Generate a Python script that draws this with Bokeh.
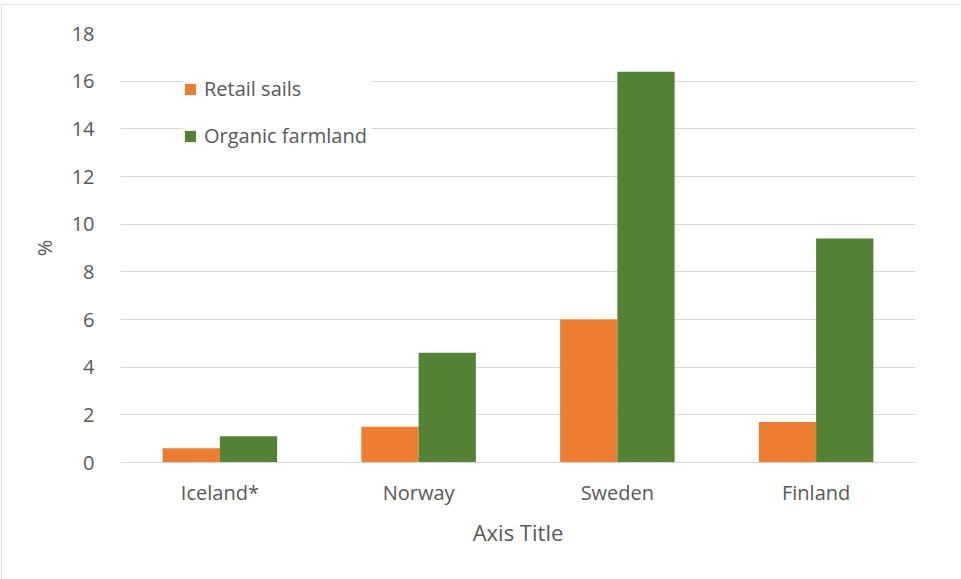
from bokeh.plotting import figure
from bokeh.models import FactorRange, Range1d, Legend, LegendItem, FixedTicker
from bokeh.transform import dodge
from bokeh.embed import file_html
from bokeh.resources import INLINE

countries = ["Iceland*", "Norway", "Sweden", "Finland"]
retail_sails = [0.6, 1.5, 6.0, 1.7]
organic_farmland = [1.1, 4.6, 16.4, 9.4]
y_ticks = [0, 2, 4, 6, 8, 10, 12, 14, 16, 18]

FONT = "Open Sans"
TXT = "#595959"
GRID = "#d9d9d9"
ORANGE = "#ED7D31"
GREEN = "#548235"

p = figure(
    x_range=FactorRange(*countries, range_padding=0, factor_padding=0),
    y_range=Range1d(0, 18),
    width=959, height=575,
    output_backend="svg", toolbar_location=None,
    min_border_left=119, min_border_right=45, min_border_top=29, min_border_bottom=117,
)
p.margin = (4, 0, 0, 1)
p.styles = {"outline": "1px solid #d9d9d9", "outline-offset": "-1px"}
p.outline_line_color = None
p.background_fill_color = "white"

src = dict(c=countries, r=retail_sails, o=organic_farmland)
bw = 0.288
r1 = p.vbar(x=dodge("c", -bw / 2, range=p.x_range), top="r", width=bw, source=src,
            fill_color=ORANGE, line_color=None)
r2 = p.vbar(x=dodge("c", bw / 2, range=p.x_range), top="o", width=bw, source=src,
            fill_color=GREEN, line_color=None)

p.yaxis.ticker = FixedTicker(ticks=y_ticks)
p.ygrid.grid_line_color = GRID
p.ygrid.grid_line_width = 1
p.xgrid.grid_line_color = None

for ax in (p.xaxis[0], p.yaxis[0]):
    ax.major_tick_line_color = None
    ax.minor_tick_line_color = None
    ax.major_label_text_font = FONT
    ax.major_label_text_color = TXT
    ax.major_label_text_font_size = "20px"
    ax.axis_label_text_font = FONT
    ax.axis_label_text_color = TXT
    ax.axis_label_text_font_style = "normal"

p.yaxis.axis_line_color = None
p.yaxis.major_label_standoff = 20
p.yaxis.axis_label = "%"
p.yaxis.axis_label_text_font_size = "20px"
p.yaxis.axis_label_standoff = 11

p.xaxis.axis_line_color = GRID
p.xaxis.major_label_standoff = 10
p.xaxis.axis_label = "Axis Title"
p.xaxis.axis_label_text_font_size = "22px"
p.xaxis.axis_label_standoff = 8

legend = Legend(
    items=[LegendItem(label="Retail sails", renderers=[r1]),
           LegendItem(label="Organic farmland", renderers=[r2])],
    location=(63, 313),
    orientation="vertical",
    background_fill_color="white", background_fill_alpha=1.0,
    border_line_color=None,
    label_text_font=FONT, label_text_color=TXT, label_text_font_size="20px",
    glyph_width=14, glyph_height=14, label_height=20, label_width=167, spacing=20,
    label_standoff=7, padding=10, margin=0,
)
p.add_layout(legend)

open("out.html", "w").write(file_html(p, INLINE))
